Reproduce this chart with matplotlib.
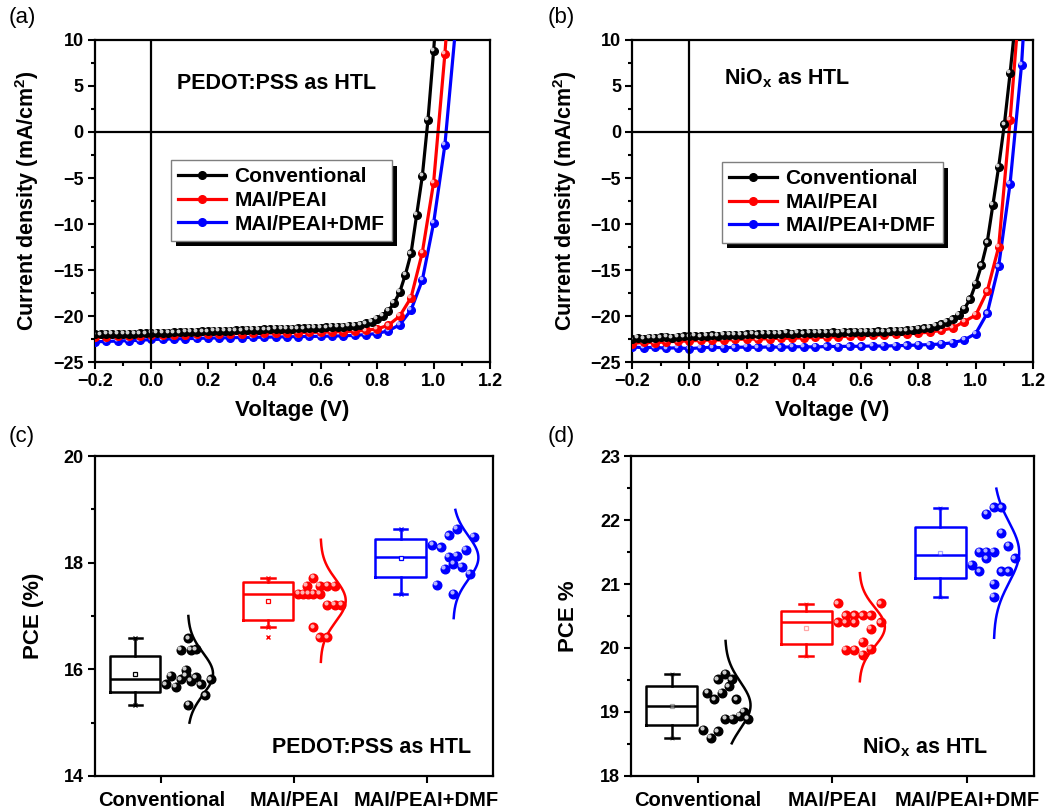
import numpy as np
import matplotlib
matplotlib.use('Agg')
import matplotlib.pyplot as plt
from matplotlib.ticker import MultipleLocator
from matplotlib import patheffects
from matplotlib.lines import Line2D
from matplotlib.transforms import ScaledTranslation

plt.rcParams['font.family'] = ['Liberation Sans', 'DejaVu Sans']
plt.rcParams['font.weight'] = 'bold'
plt.rcParams['axes.labelweight'] = 'bold'
plt.rcParams['mathtext.fontset'] = 'custom'
plt.rcParams['mathtext.rm'] = 'Liberation Sans:bold'
plt.rcParams['mathtext.bf'] = 'Liberation Sans:bold'
plt.rcParams['mathtext.it'] = 'Liberation Sans:bold'

# ---------------- J-V data, PEDOT:PSS (a) ----------------
v_a_conv = np.round(np.arange(-0.20, 1.021, 0.02), 2)
j_a_conv = [-22.00, -21.99, -21.97, -21.96, -21.94, -21.93, -21.91, -21.90, -21.88, -21.87,
            -21.85, -21.84, -21.82, -21.80, -21.78, -21.76, -21.74, -21.72, -21.70, -21.68,
            -21.66, -21.64, -21.62, -21.60, -21.58, -21.56, -21.54, -21.52, -21.50, -21.48,
            -21.46, -21.44, -21.42, -21.40, -21.38, -21.36, -21.34, -21.32, -21.30, -21.28,
            -21.25, -21.22, -21.20, -21.17, -21.14, -21.10, -21.05, -20.95, -20.80, -20.60,
            -20.30, -20.00, -19.40, -18.60, -17.40, -15.50, -13.20, -9.00, -4.80, 1.30,
            8.80, 17.00]
v_a_mai = np.round(np.arange(-0.20, 1.081, 0.04), 2)
j_a_mai = [-22.30, -22.26, -22.22, -22.18, -22.14, -22.10, -22.07, -22.04, -22.01, -21.98,
           -21.96, -21.94, -21.92, -21.90, -21.88, -21.86, -21.84, -21.82, -21.80, -21.78,
           -21.76, -21.73, -21.69, -21.64, -21.55, -21.40, -21.00, -20.00, -18.00, -13.10,
           -5.50, 8.50, 25.00]
v_a_dmf = np.round(np.arange(-0.20, 1.081, 0.04), 2)
j_a_dmf = [-22.80, -22.76, -22.72, -22.68, -22.64, -22.55, -22.52, -22.49, -22.46, -22.43,
           -22.40, -22.38, -22.36, -22.34, -22.32, -22.30, -22.28, -22.26, -22.24, -22.22,
           -22.20, -22.18, -22.15, -22.10, -22.02, -21.90, -21.60, -20.95, -19.35, -16.10,
           -9.90, -1.40, 12.00]

# ---------------- J-V data, NiOx (b) ----------------
v_b_conv = np.round(np.arange(-0.20, 1.141, 0.02), 2)
j_b_conv = [-22.55, -22.40, -22.45, -22.35, -22.40, -22.30, -22.28, -22.35, -22.25, -22.20,
            -22.22, -22.15, -22.20, -22.12, -22.10, -22.15, -22.05, -22.08, -22.02, -22.05,
            -22.00, -21.95, -22.00, -21.92, -21.95, -21.90, -21.92, -21.85, -21.90, -21.85,
            -21.88, -21.82, -21.85, -21.80, -21.83, -21.78, -21.80, -21.75, -21.78, -21.72,
            -21.75, -21.70, -21.72, -21.68, -21.70, -21.65, -21.62, -21.60, -21.55, -21.50,
            -21.42, -21.35, -21.25, -21.10, -20.90, -20.65, -20.35, -19.90, -19.20, -18.20,
            -16.50, -14.50, -12.00, -7.90, -3.80, 0.84, 6.40, 12.50]
v_b_mai = np.round(np.arange(-0.20, 1.161, 0.04), 2)
j_b_mai = [-23.00, -22.85, -22.90, -22.80, -22.75, -22.70, -22.65, -22.60, -22.62, -22.55,
           -22.50, -22.52, -22.45, -22.42, -22.40, -22.38, -22.32, -22.30, -22.25, -22.20,
           -22.15, -22.10, -22.05, -22.00, -21.95, -21.85, -21.75, -21.55, -21.30, -20.60,
           -19.90, -17.30, -12.50, 1.30, 17.00]
v_b_dmf = np.round(np.arange(-0.20, 1.201, 0.04), 2)
j_b_dmf = [-23.35, -23.45, -23.40, -23.50, -23.45, -23.55, -23.45, -23.40, -23.45, -23.40,
           -23.38, -23.42, -23.35, -23.40, -23.35, -23.33, -23.38, -23.30, -23.32, -23.28,
           -23.30, -23.25, -23.27, -23.22, -23.20, -23.15, -23.10, -23.05, -22.90, -22.60,
           -21.90, -19.70, -14.60, -5.60, 7.30, 28.00]

# ---------------- PCE statistics, PEDOT:PSS (c) ----------------
groups = ['Conventional', 'MAI/PEAI', 'MAI/PEAI+DMF']
pce_c_conv = [15.72, 15.88, 15.67, 16.36, 15.81, 15.99, 15.89, 16.58, 15.33, 16.36,
              15.79, 16.375, 15.85, 15.72, 15.51, 15.81]
off_c_conv = [0.033, 0.070, 0.108, 0.145, 0.145, 0.183, 0.183, 0.203, 0.203, 0.221,
              0.221, 0.258, 0.258, 0.296, 0.333, 0.371]
pce_c_mai = [17.41, 17.41, 17.56, 17.41, 17.72, 17.41, 16.79, 17.56, 17.41, 16.60,
             17.56, 17.21, 16.60, 17.56, 17.21, 17.21]
off_c_mai = [0.033, 0.070, 0.095, 0.108, 0.145, 0.145, 0.145, 0.195, 0.195, 0.195,
             0.251, 0.251, 0.251, 0.308, 0.308, 0.358]
pce_c_dmf = [18.33, 17.59, 18.29, 17.89, 18.51, 18.11, 17.98, 17.42, 18.64, 18.13,
             17.92, 18.24, 17.79, 18.48]
off_c_dmf = [0.043, 0.075, 0.105, 0.138, 0.168, 0.168, 0.200, 0.200, 0.230, 0.230,
             0.263, 0.296, 0.326, 0.358]
# whislo, q1, median, q3, whishi, mean
box_c_conv = [15.33, 15.57, 15.82, 16.25, 16.58, 15.91]
box_c_mai = [16.79, 16.93, 17.41, 17.63, 17.72, 17.28]
box_c_dmf = [17.42, 17.74, 18.11, 18.44, 18.64, 18.09]
flier_c_mai = [16.60]
curve_c_lo = [15.00, 16.14, 16.96]
curve_c_hi = [17.00, 18.43, 18.99]

# ---------------- PCE statistics, NiOx (d) ----------------
pce_d_conv = [18.72, 19.30, 18.60, 19.20, 19.51, 18.70, 19.30, 19.60, 18.89, 19.40,
              19.51, 18.89, 19.20, 18.94, 19.00, 18.89]
off_d_conv = [0.038, 0.068, 0.095, 0.120, 0.148, 0.148, 0.178, 0.203, 0.203, 0.228,
              0.253, 0.258, 0.283, 0.308, 0.338, 0.368]
pce_d_mai = [20.70, 20.40, 20.51, 20.40, 19.97, 20.51, 20.40, 19.97, 20.51, 20.10,
             19.89, 20.51, 20.30, 19.99, 20.70, 20.40]
off_d_mai = [0.038, 0.038, 0.100, 0.100, 0.100, 0.163, 0.163, 0.163, 0.226, 0.226,
             0.226, 0.288, 0.288, 0.288, 0.358, 0.358]
pce_d_dmf = [21.30, 21.50, 21.20, 22.10, 21.50, 21.40, 22.20, 21.50, 21.00, 20.80,
             22.20, 21.80, 21.20, 21.60, 21.20, 21.40]
off_d_dmf = [0.038, 0.093, 0.093, 0.145, 0.145, 0.145, 0.200, 0.200, 0.200, 0.200,
             0.256, 0.256, 0.256, 0.310, 0.310, 0.360]
box_d_conv = [18.60, 18.79, 19.10, 19.41, 19.60, 19.10]
box_d_mai = [19.88, 20.07, 20.40, 20.58, 20.69, 20.32]
box_d_dmf = [20.80, 21.09, 21.45, 21.89, 22.19, 21.48]
curve_d_lo = [18.51, 19.48, 20.16]
curve_d_hi = [20.11, 21.17, 22.49]

colors = ['#000000', '#ff0000', '#0000ff']
shine = ['#d0d0d0', '#ffb4b4', '#b4b4ff']

fig = plt.figure(figsize=(10.48, 8.11), dpi=100)
ax_a = fig.add_axes([0.0906, 0.5536, 0.3770, 0.3971])
ax_b = fig.add_axes([0.6031, 0.5536, 0.3826, 0.3971])
ax_c = fig.add_axes([0.0906, 0.0432, 0.3798, 0.3945])
ax_d = fig.add_axes([0.6021, 0.0432, 0.3845, 0.3945])


def frame(ax):
    for s in ax.spines.values():
        s.set_linewidth(1.6)
    ax.tick_params(which='both', direction='out', width=1.5, top=False, right=False)
    ax.tick_params(which='major', length=5, labelsize=13, pad=3)
    ax.tick_params(which='minor', length=3)


def shine_trans(ax):
    return ax.transData + ScaledTranslation(-1.2 / 72, 1.2 / 72, fig.dpi_scale_trans)


def jv_panel(ax, vs, js, note, leg_xy, ylab_x):
    frame(ax)
    handles = []
    for i in [2, 1, 0]:
        ax.plot(vs[i], js[i], '-', color=colors[i], lw=2.3, marker='o', ms=5.5,
                mec=colors[i], mfc=colors[i], zorder=3 + (2 - i))
        ax.plot(vs[i], js[i], 'o', ms=1.8, color=shine[i], transform=shine_trans(ax),
                zorder=3.5 + (2 - i))
    for i in range(3):
        handles.append(Line2D([], [], color=colors[i], lw=2.3, marker='o', ms=5.5,
                              mfc=colors[i], mec=colors[i]))
    ax.axhline(0, color='k', lw=1.6, zorder=8)
    ax.axvline(0, color='k', lw=1.6, zorder=8)
    ax.set_xlim(-0.2, 1.2)
    ax.set_ylim(-25, 10)
    ax.xaxis.set_major_locator(MultipleLocator(0.2))
    ax.xaxis.set_minor_locator(MultipleLocator(0.1))
    ax.yaxis.set_major_locator(MultipleLocator(5))
    ax.yaxis.set_minor_locator(MultipleLocator(2.5))
    ax.xaxis.set_major_formatter(plt.FuncFormatter(lambda x, p: f'{x:.1f}'.replace('-', '\u2212')))
    ax.set_xlabel('Voltage (V)', fontsize=16, labelpad=7)
    ax.set_ylabel(r'Current density (mA/cm$^\mathbf{2}$)', fontsize=15.5)
    ax.yaxis.set_label_coords(ylab_x, 0.5)
    ax.text(note[0], note[1], note[2], transform=ax.transAxes, fontsize=15.5, va='center')
    leg = ax.legend(handles, groups, loc='upper left', bbox_to_anchor=leg_xy,
                    borderaxespad=0, fontsize=15, frameon=True, fancybox=False,
                    framealpha=1, edgecolor='#7f7f7f', handlelength=2.3,
                    handletextpad=0.4, labelspacing=0.22, borderpad=0.35)
    leg.get_frame().set_linewidth(1.0)
    leg.get_frame().set_path_effects([
        patheffects.SimplePatchShadow(offset=(4, -4), shadow_rgbFace='k', alpha=1.0),
        patheffects.Normal()])
    leg.set_zorder(10)


jv_panel(ax_a, [v_a_conv, v_a_mai, v_a_dmf], [j_a_conv, j_a_mai, j_a_dmf],
         (0.208, 0.866, 'PEDOT:PSS as HTL'), (0.192, 0.627), -0.137)
jv_panel(ax_b, [v_b_conv, v_b_mai, v_b_dmf], [j_b_conv, j_b_mai, j_b_dmf],
         (0.229, 0.882, r'NiO$_\mathbf{x}$ as HTL'), (0.224, 0.621), -0.132)


def box_panel(ax, pces, offs, boxes, lo, hi, fliers, ylim, major, minor, ylab, note,
              note_xy, faint, ylab_x):
    frame(ax)
    for i in range(3):
        c = colors[i]
        pos = i + 1
        b = boxes[i]
        st = dict(whislo=b[0], q1=b[1], med=b[2], q3=b[3], whishi=b[4], mean=b[5],
                  fliers=[])
        lp = dict(color=c, lw=1.8)
        ax.bxp([st], positions=[pos - 0.196], widths=0.38, capwidths=0.1,
               boxprops=lp, whiskerprops=lp, capprops=lp, medianprops=lp,
               showfliers=False, showmeans=False, manage_ticks=False)
        a = 0.35 if faint else 1.0
        ax.plot([pos - 0.196], [b[5]], 's', ms=3.5, mfc='white', mec=c, mew=0.9,
                alpha=a, zorder=4)
        ax.plot([pos - 0.196, pos - 0.196], [b[0], b[4]], 'x', ms=3.5, color=c,
                mew=0.9, alpha=a, zorder=4)
        if fliers[i]:
            ax.plot([pos - 0.196] * len(fliers[i]), fliers[i], 'x', ms=3.5, color=c,
                    mew=1.0, zorder=4)
        x = pos + np.array(offs[i])
        ax.plot(x, pces[i], 'o', ms=6.2, color=c, zorder=5)
        ax.plot(x, pces[i], 'o', ms=2.0, color=shine[i], transform=shine_trans(ax),
                zorder=6)
        m = np.mean(pces[i])
        s = np.std(pces[i], ddof=1) * 1.15
        yy = np.linspace(lo[i], hi[i], 200)
        xx = pos + 0.2 + 0.19 * np.exp(-0.5 * ((yy - m) / s) ** 2)
        ax.plot(xx, yy, '-', color=c, lw=1.8, zorder=4)
    ax.set_xlim(0.5, 3.5)
    ax.set_ylim(*ylim)
    ax.set_xticks([1, 2, 3])
    ax.set_xticklabels(groups, fontsize=14.5)
    ax.yaxis.set_major_locator(MultipleLocator(major))
    ax.yaxis.set_minor_locator(MultipleLocator(minor))
    ax.tick_params(axis='x', pad=6)
    ax.set_ylabel(ylab, fontsize=16)
    ax.yaxis.set_label_coords(ylab_x, 0.5)
    ax.text(note_xy[0], note_xy[1], note, transform=ax.transAxes, fontsize=15.5,
            ha='right', va='center')


box_panel(ax_c, [pce_c_conv, pce_c_mai, pce_c_dmf], [off_c_conv, off_c_mai, off_c_dmf],
          [box_c_conv, box_c_mai, box_c_dmf], curve_c_lo, curve_c_hi,
          [[], flier_c_mai, []], (14, 20), 2, 1, 'PCE (%)', 'PEDOT:PSS as HTL',
          (0.945, 0.09), False, -0.128)
box_panel(ax_d, [pce_d_conv, pce_d_mai, pce_d_dmf], [off_d_conv, off_d_mai, off_d_dmf],
          [box_d_conv, box_d_mai, box_d_dmf], curve_d_lo, curve_d_hi,
          [[], [], []], (18, 23), 1, 0.5, 'PCE %', r'NiO$_\mathbf{x}$ as HTL',
          (0.886, 0.09), True, -0.13)

for lab, x, y in [('(a)', 0.008, 0.978), ('(b)', 0.523, 0.978),
                  ('(c)', 0.008, 0.462), ('(d)', 0.523, 0.462)]:
    fig.text(x, y, lab, fontsize=16, fontweight='normal', va='center', ha='left')

fig.savefig('out.png', dpi=100)
